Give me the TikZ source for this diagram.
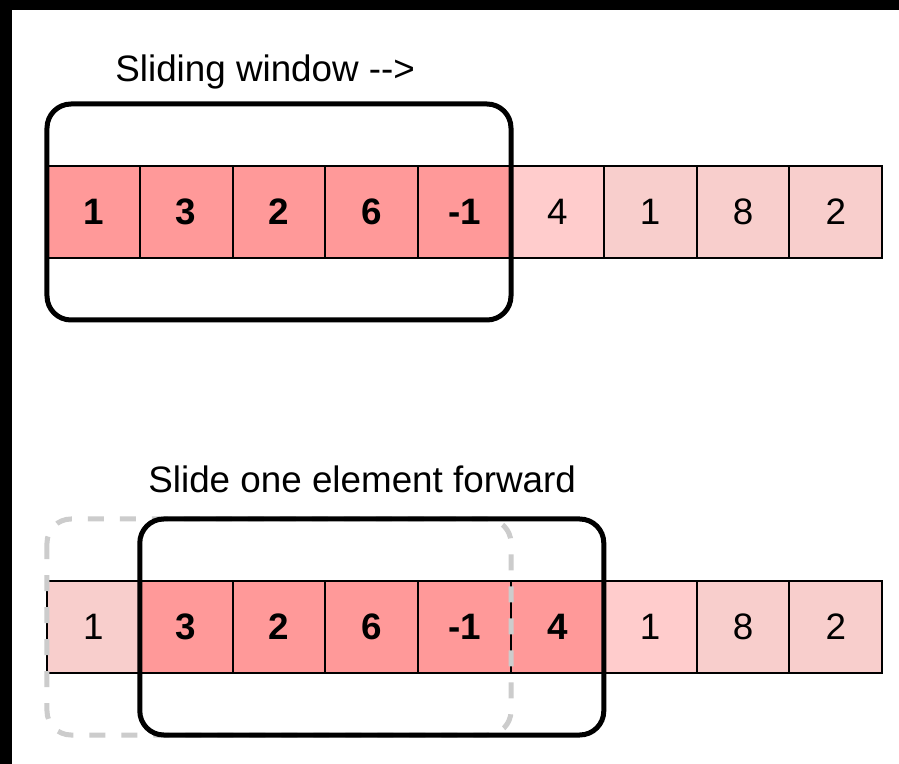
\documentclass[tikz,border=0pt]{standalone}
\usepackage{fontspec}
\setmainfont{Liberation Sans}
\usepackage{xcolor}
\usepackage{tikz}
\usetikzlibrary{positioning}
\definecolor{hotcell}{HTML}{FF9999}
\definecolor{nextcell}{HTML}{FFCCCC}
\definecolor{restcell}{HTML}{F8CECC}
\definecolor{oldwin}{HTML}{CCCCCC}

\begin{document}
\begin{tikzpicture}[node distance=0pt,font=\fontsize{18.4}{22}\selectfont,
		cell/.style={draw,line width=1pt,minimum width=46.4pt,minimum height=46pt,inner sep=0pt,outer sep=0pt},
		hot/.style={cell,fill=hotcell,font=\fontsize{18.4}{22}\selectfont\bfseries},
		next/.style={cell,fill=nextcell},
		rest/.style={cell,fill=restcell},
		window/.style={line width=2.5pt,rounded corners=12pt},
		oldwindow/.style={window,oldwin,dash pattern=on 8pt off 8pt},
		caption/.style={anchor=base west,inner sep=0pt}]
		% frame of the screenshot
		\fill[black] (-23.5pt,83pt) rectangle (426pt,-299pt);
		\fill[white] (-17.5pt,78pt) rectangle (426pt,-299pt);

		% first row
		\node[caption] (title1) at (34pt,42pt) {Sliding window -\kern0pt->};
		\node[hot,anchor=north west] (a1) at (0,0) {1};
		\node[hot] (a2) [right=of a1] {3};
		\node[hot] (a3) [right=of a2] {2};
		\node[hot] (a4) [right=of a3] {6};
		\node[hot] (a5) [right=of a4] {-1};
		\node[next] (a6) [right=of a5] {4};
		\node[rest] (a7) [right=of a6] {1};
		\node[rest] (a8) [right=of a7] {8};
		\node[rest] (a9) [right=of a8] {2};
		\draw[window] ([yshift=31pt]a1.north west) rectangle ([yshift=-31pt]a5.south east);

		% second row
		\node[caption] (title2) at (50.5pt,-163.5pt) {Slide one element forward};
		\node[rest,anchor=north west] (b1) at (0,-207.5pt) {1};
		\node[hot] (b2) [right=of b1] {3};
		\node[hot] (b3) [right=of b2] {2};
		\node[hot] (b4) [right=of b3] {6};
		\node[hot] (b5) [right=of b4] {-1};
		\node[hot] (b6) [right=of b5] {4};
		\node[next] (b7) [right=of b6] {1};
		\node[rest] (b8) [right=of b7] {8};
		\node[rest] (b9) [right=of b8] {2};
		\draw[oldwindow] ([yshift=31pt]b1.north west) rectangle ([yshift=-31pt]b5.south east);
		\draw[window] ([yshift=31pt]b2.north west) rectangle ([yshift=-31pt]b6.south east);
\end{tikzpicture}
\end{document}
